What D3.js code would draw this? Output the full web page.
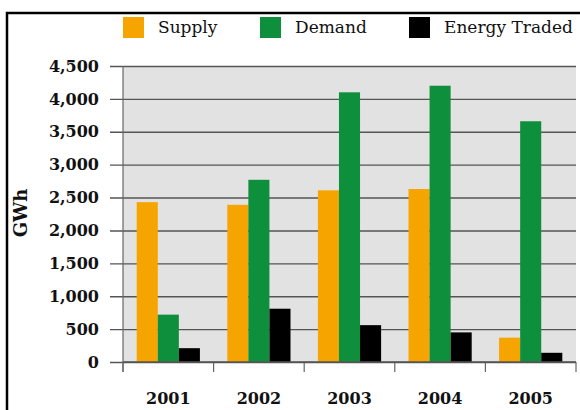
<!DOCTYPE html>
<html>
<head>
<meta charset="utf-8">
<script src="https://cdn.jsdelivr.net/npm/d3@7"></script>
<style>
  html, body { margin: 0; padding: 0; background: #fff; }
  svg { display: block; }
</style>
</head>
<body>
<svg id="chart" width="580" height="410"></svg>
<script>
// Annual electricity supply, demand and traded volume (GWh)
const years = ["2001", "2002", "2003", "2004", "2005"];
const seriesNames = ["Supply", "Demand", "Energy Traded"];
const supply = [2430, 2390, 2610, 2630, 370];
const demand = [720, 2770, 4100, 4200, 3660];
const energyTraded = [210, 810, 560, 450, 140];
const yTicks = [0, 500, 1000, 1500, 2000, 2500, 3000, 3500, 4000, 4500];
const colors = ["#f6a400", "#0e8f3c", "#000000"];

const seriesValues = [supply, demand, energyTraded];
const rows = years.map((yr, i) => ({
  year: yr,
  values: seriesNames.map((s, k) => ({ key: s, value: seriesValues[k][i] }))
}));

const svg = d3.select("#chart");
const plotLeft = 123, plotRight = 576, plotTop = 66, plotBottom = 362;
const fontFamily = "'DejaVu Serif', serif";

// outer frame
svg.append("rect")
  .attr("x", 7).attr("y", 13)
  .attr("width", 600).attr("height", 420)
  .attr("fill", "none").attr("stroke", "#000").attr("stroke-width", 2.5);

const x0 = d3.scaleBand().domain(years).range([plotLeft, plotRight]).padding(0);
const x1 = d3.scaleBand().domain(seriesNames).range([0, x0.bandwidth()])
  .paddingInner(0).paddingOuter(0.65);
const y = d3.scaleLinear().domain([0, 4500]).range([plotBottom, plotTop]);

// plot background
svg.append("rect")
  .attr("x", plotLeft).attr("y", plotTop)
  .attr("width", plotRight - plotLeft).attr("height", plotBottom - plotTop)
  .attr("fill", "#e2e2e2");

// horizontal gridlines with tick stubs and labels
const yAxis = d3.axisLeft(y)
  .tickValues(yTicks)
  .tickFormat(d3.format(","))
  .tickSize(-(plotRight - plotLeft))
  .tickPadding(24);
const gy = svg.append("g").attr("transform", `translate(${plotLeft},0)`).call(yAxis);
gy.select(".domain").remove();
gy.selectAll(".tick line")
  .attr("x1", -13)
  .attr("stroke", "#555").attr("stroke-width", 1.4);
gy.selectAll(".tick text")
  .attr("font-family", fontFamily).attr("font-size", 16)
  .attr("font-weight", "bold").attr("fill", "#111");

// bars
const groups = svg.append("g").selectAll("g").data(rows).join("g")
  .attr("transform", d => `translate(${x0(d.year)},0)`);
groups.selectAll("rect").data(d => d.values).join("rect")
  .attr("x", d => x1(d.key))
  .attr("y", d => y(d.value))
  .attr("width", x1.bandwidth())
  .attr("height", d => y(0) - y(d.value))
  .attr("fill", (d, i) => colors[i]);

// vertical axis line
svg.append("line")
  .attr("x1", plotLeft).attr("x2", plotLeft)
  .attr("y1", plotTop).attr("y2", plotBottom + 10)
  .attr("stroke", "#666").attr("stroke-width", 1.2);

// category axis: ticks at band edges, labels centred
const edges = years.map(yr => x0(yr)).concat([plotRight]);
svg.append("g").selectAll("line").data(edges).join("line")
  .attr("x1", d => d).attr("x2", d => d)
  .attr("y1", plotBottom).attr("y2", plotBottom + 10)
  .attr("stroke", "#666").attr("stroke-width", 1.2);
svg.append("line")
  .attr("x1", plotLeft).attr("x2", plotRight)
  .attr("y1", plotBottom).attr("y2", plotBottom)
  .attr("stroke", "#555").attr("stroke-width", 1.4);
svg.append("g").selectAll("text").data(years).join("text")
  .attr("x", d => x0(d) + x0.bandwidth() / 2)
  .attr("y", 404)
  .attr("text-anchor", "middle")
  .attr("font-family", fontFamily).attr("font-size", 16)
  .attr("font-weight", "bold").attr("fill", "#111")
  .text(d => d);

// axis title
svg.append("text")
  .attr("transform", "translate(27,213) rotate(-90)")
  .attr("text-anchor", "middle")
  .attr("font-family", fontFamily).attr("font-size", 18)
  .attr("font-weight", "bold").attr("fill", "#111")
  .text("GWh");

// legend
const legendX = [123, 260, 409];
const legend = svg.append("g").selectAll("g").data(seriesNames).join("g")
  .attr("transform", (d, i) => `translate(${legendX[i]},17)`);
legend.append("rect")
  .attr("width", 21).attr("height", 21)
  .attr("fill", (d, i) => colors[i]);
legend.append("text")
  .attr("x", 35).attr("y", 16)
  .attr("font-family", fontFamily).attr("font-size", 17)
  .attr("fill", "#111")
  .text(d => d);
</script>
</body>
</html>
